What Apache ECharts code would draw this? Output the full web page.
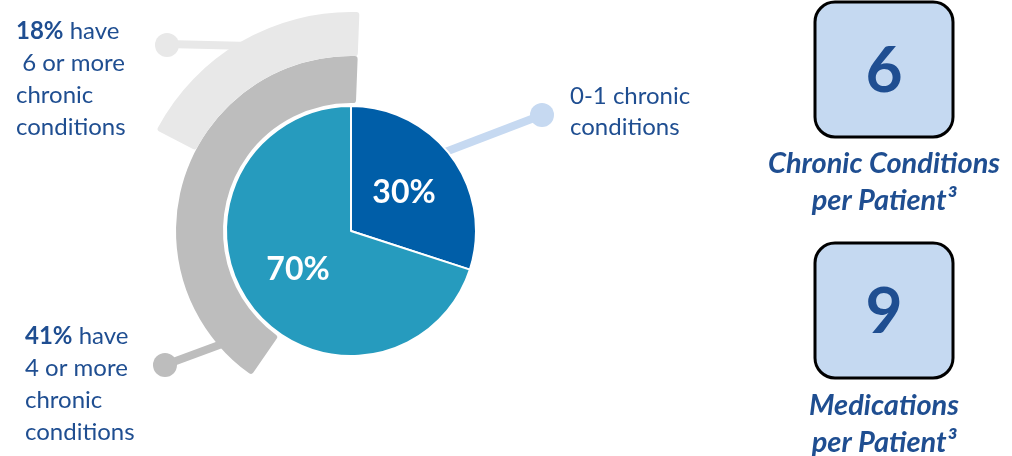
<!DOCTYPE html>
<html>
<head>
<meta charset="utf-8">
<script src="https://cdn.jsdelivr.net/npm/echarts@6/dist/echarts.min.js"></script>
<style>
html,body{margin:0;padding:0;background:#fff;}
#chart{width:1012px;height:456px;}
</style>
</head>
<body>
<div id="chart"></div>
<script>
// ---- data ----
const sliceNames = ['0-1 chronic conditions', '2 or more chronic conditions'];
const sliceValues = [30, 70];
const bandNames = ['4 or more chronic conditions', '6 or more chronic conditions'];
const bandValues = [41, 18];
const statValues = [6, 9];
const statLabels = ['Chronic Conditions\nper Patient³', 'Medications\nper Patient³'];

// ---- styling ----
const TXT = '#1F4E91';
const FONT = 'Lato, "Open Sans", sans-serif';
const C = [351, 231];
const sliceColors = ['#005EA8', '#269BBE'];
const bandColors = ['#BDBDBD', '#E8E8E8'];
const bandRadii = [[128, 175], [175, 219]];
const connectorBlue = '#C6D9F1';

const chart = echarts.init(document.getElementById('chart'), null, {renderer: 'canvas'});

function bandSeries(i) {
  return {
    type: 'pie', center: C, radius: bandRadii[i], startAngle: 87.8, clockwise: false,
    silent: true, z: 2, label: {show: false}, labelLine: {show: false},
    data: [
      {name: bandNames[i], value: bandValues[i], itemStyle: {color: bandColors[i], borderRadius: 3}},
      {name: 'rest', value: 100 - bandValues[i], itemStyle: {color: 'rgba(0,0,0,0)'}}
    ]
  };
}

const sideFont = '24px ' + FONT;
const boldRich = {b: {fontWeight: 'bold', fontSize: 24, fontFamily: FONT, fill: TXT, lineHeight: 32}};

const graphic = [
  // connectors (behind series)
  {type: 'line', z: 0, shape: {x1: 167, y1: 44, x2: 250, y2: 46}, style: {stroke: bandColors[1], lineWidth: 8}},
  {type: 'circle', z: 0, shape: {cx: 167, cy: 45, r: 12}, style: {fill: bandColors[1]}},
  {type: 'line', z: 0, shape: {x1: 165, y1: 365, x2: 230, y2: 341}, style: {stroke: bandColors[0], lineWidth: 8}},
  {type: 'circle', z: 0, shape: {cx: 165, cy: 365, r: 12}, style: {fill: bandColors[0]}},
  {type: 'line', z: 0, shape: {x1: 542, y1: 115, x2: 440, y2: 154}, style: {stroke: connectorBlue, lineWidth: 8}},
  {type: 'circle', z: 0, shape: {cx: 542, cy: 115, r: 12}, style: {fill: connectorBlue}},
  // side texts
  {type: 'text', left: 16, top: 15, style: {
    text: '{b|' + bandValues[1] + '%} have\n 6 or more\nchronic\nconditions',
    fill: TXT, font: sideFont, lineHeight: 32, rich: boldRich
  }},
  {type: 'text', left: 25, top: 320, style: {
    text: '{b|' + bandValues[0] + '%} have\n4 or more\nchronic\nconditions',
    fill: TXT, font: sideFont, lineHeight: 32, rich: boldRich
  }},
  {type: 'text', left: 570, top: 81, style: {
    text: '0-1 chronic\nconditions', fill: TXT, font: sideFont, lineHeight: 31
  }}
];

const boxTops = [2, 243];
const labelTops = [145, 387];
statValues.forEach((v, i) => {
  graphic.push({type: 'rect', z: 5, shape: {x: 815, y: boxTops[i], width: 138, height: 135, r: 20},
    style: {fill: '#C5D9F1', stroke: '#000', lineWidth: 3}});
  graphic.push({type: 'text', z: 6, style: {
    text: String(v), x: 884, y: boxTops[i] + 69, textAlign: 'center', textVerticalAlign: 'middle',
    fill: TXT, font: 'bold 64px ' + FONT}});
  graphic.push({type: 'text', z: 6, style: {
    text: statLabels[i], x: 884, y: labelTops[i], textAlign: 'center', textVerticalAlign: 'top',
    fill: TXT, font: 'italic bold 29px ' + FONT, lineHeight: 37}});
});

chart.setOption({
  animation: false,
  graphic: graphic,
  series: [
    bandSeries(0),
    bandSeries(1),
    {
      type: 'pie', center: C, radius: [0, 125], startAngle: 90, clockwise: true, z: 3,
      itemStyle: {borderColor: '#fff', borderWidth: 2},
      label: {show: true, position: 'inside', formatter: '{c}%', color: '#fff',
        fontSize: 32, fontWeight: 'bold', fontFamily: FONT},
      labelLine: {show: false},
      data: sliceNames.map((n, i) => ({name: n, value: sliceValues[i], itemStyle: {color: sliceColors[i]}}))
    }
  ]
});
</script>
</body>
</html>
